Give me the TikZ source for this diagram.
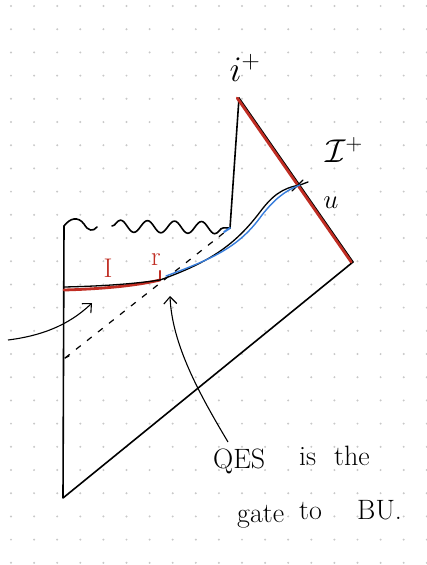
\RequirePackage{fix-cm}
\documentclass[tikz,border=0pt]{standalone}
\usepackage{fontspec}
\usetikzlibrary{decorations.pathmorphing,arrows.meta}
\definecolor{inkred}{RGB}{192,45,35}
\definecolor{inkblue}{RGB}{55,125,220}
\definecolor{griddot}{RGB}{200,200,200}
\begin{document}
\begin{tikzpicture}[x=1pt,y=-1pt,
  ink/.style={line width=1.6pt,line cap=round,line join=round},
  redink/.style={line width=2.8pt,line cap=round,color=inkred},
  blueink/.style={line width=1.4pt,line cap=round,color=inkblue},
  dashink/.style={line width=1.2pt,dash pattern=on 6pt off 8pt},
  pointer/.style={line width=1.1pt,-{Straight Barb[length=7pt,width=13pt]}},
  handtext/.style={font=\fontsize{28}{32}\selectfont,inner sep=0pt,anchor=base west},
  label/.style={inner sep=0pt}]
\useasboundingbox (0,0) rectangle (426,565);
\fill[white] (0,0) rectangle (426,565);
\foreach \i in {0,...,18} \foreach \j in {0,...,24}
  \fill[griddot] ({11+23.1*\i},{6+23.2*\j}) circle (1.1);
% corners
\coordinate (TL) at (64,226);
\coordinate (BL) at (63,498);
\coordinate (BR) at (353,262);
\coordinate (TOP) at (239,98);
\coordinate (SB) at (230,228);
\coordinate (DL) at (65,358);
\coordinate (Q) at (160,280);
\coordinate (QR) at (300,185);
\coordinate (AL) at (8,340);
\coordinate (AT) at (92,303);
\coordinate (TS) at (228,442);
\coordinate (TQ) at (170,296);
% outline
\draw[ink] (TL) -- (BL) -- (BR);
\draw[ink] (TOP) -- (SB);
\draw[ink] (TOP) -- (BR);
\draw[redink] ([xshift=-1.8pt]TOP) -- ([xshift=-1.8pt]BR);
% singularity
\draw[ink] (TL) .. controls (70,218) and (78,216) .. (84,224)
  .. controls (88,231) and (93,232) .. (97,227);
\draw[ink,decorate,decoration={snake,segment length=27pt,amplitude=6pt}]
  (112,226) -- (SB);
% dashed horizon
\draw[dashink] (DL) -- (SB);
\draw[ink,line width=1.2pt] (DL) -- ++(4,-2);
% red interval I
\draw[redink] (TL |- 0,290) .. controls (100,289) and (135,286) .. (Q);
\draw[redink,line width=2.2pt] (Q) -- ++(0,-9);
% black QES / Cauchy slice
\draw[ink,line width=1.3pt] (64,287) .. controls (110,286) and (140,283) .. (Q)
  .. controls (210,262) and (235,245) .. (260,212)
  .. controls (272,196) and (282,188) .. (QR) -- (308,182);
\draw[ink,line width=1.3pt] (292,191) -- (303,180);
% blue
\draw[blueink] (166,276) .. controls (215,258) and (240,246) .. (262,215)
  .. controls (274,200) and (284,191) .. (QR);
\draw[blueink,line width=2pt] (224,232) -- (SB);
% arrows
\draw[pointer] (AL) .. controls (40,336) and (68,326) .. (AT);
\draw[pointer] (TS) .. controls (200,395) and (172,345) .. (TQ);
% labels
\node[label,font=\fontsize{36}{40}\selectfont] (iplus) at (245,68) {$i^+$};
\node[label,font=\fontsize{33}{36}\selectfont] (scri) at (344,150) {$\mathcal{I}^+$};
\node[label,font=\fontsize{27}{30}\selectfont] (u) at (331,203) {$u$};
\node[label,font=\fontsize{27}{30}\selectfont,text=inkred] (Ilab) at (108,268) {I};
\node[label,font=\fontsize{27}{30}\selectfont,text=inkred] (rlab) at (156,260) {r};
% text
\node[handtext] (qes) at (213,468) {QES};
\node[handtext] (is) at (299,465) {is};
\node[handtext] (the) at (334,465) {the};
\node[handtext] (gate) at (237,522) {gate};
\node[handtext] (to) at (299,519) {to};
\node[handtext] (bu) at (357,519) {BU.};
\end{tikzpicture}
\end{document}
